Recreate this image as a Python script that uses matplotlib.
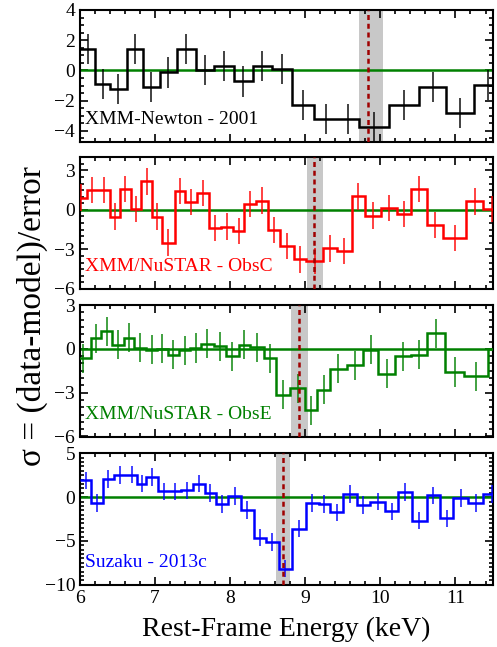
import numpy as np
import matplotlib
matplotlib.use("Agg")
import matplotlib.pyplot as plt
from matplotlib.ticker import MultipleLocator

plt.rcParams["font.family"] = ["Liberation Serif", "DejaVu Serif"]

# residuals in sigma units, step bins (edges in keV)
xmm01_edges = [6.0, 6.2, 6.4, 6.62, 6.84, 7.06, 7.29, 7.54, 7.79, 8.045, 8.30, 8.555, 8.82,
               9.12, 9.42, 9.72, 10.11, 10.51, 10.88, 11.24, 11.63]
xmm01_vals = [1.44, -0.89, -1.24, 1.44, -1.07, -0.13, 1.44, 0.04, 0.31, -0.73, 0.31, 0.09,
              -2.29, -3.2, -3.2, -3.73, -2.29, -1.11, -2.8, -0.96]

obsC_edges = [5.95, 6.087, 6.237, 6.397, 6.53, 6.68, 6.818, 6.96, 7.093, 7.26, 7.403, 7.558,
              7.713, 7.877, 8.037, 8.188, 8.347, 8.498, 8.666, 8.844, 9.012, 9.234, 9.42, 9.62,
              9.797, 10.005, 10.218, 10.405, 10.625, 10.838, 11.14, 11.37, 11.6]
obsC_vals = [0.94, 1.53, 1.53, -0.51, 1.58, 0.05, 2.16, -0.51, -2.49, 1.45, 0.59, 1.27,
             -1.35, -1.27, -1.58, 0.43, 0.71, -1.53, -2.75, -3.77, -3.89, -2.93, -3.13, 1.02,
             -0.43, 0.13, -0.31, 1.58, -1.15, -2.16, 0.64, 0.08]

obsE_edges = [5.95, 6.14, 6.282, 6.428, 6.583, 6.725, 6.884, 7.026, 7.168, 7.314, 7.469, 7.611,
              7.779, 7.943, 8.112, 8.267, 8.444, 8.613, 8.799, 8.998, 9.154, 9.331, 9.553,
              9.765, 9.974, 10.196, 10.404, 10.617, 10.861, 11.113, 11.437, 11.6]
obsE_vals = [-0.64, 0.73, 1.21, 0.27, 0.75, 0.07, -0.07, 0.0, -0.41, -0.11, 0.05, 0.34,
             0.18, -0.52, 0.27, 0.11, -0.64, -3.14, -2.69, -4.21, -2.8, -1.37, -1.14, -0.07,
             -1.71, -0.5, -0.39, 1.07, -1.59, -1.87, 0.0]

suz_edges = [6.0, 6.149, 6.304, 6.45, 6.614, 6.76, 6.884, 7.035, 7.195, 7.346, 7.505, 7.66,
             7.815, 7.97, 8.148, 8.312, 8.48, 8.644, 8.822, 9.008, 9.176, 9.331, 9.508, 9.686,
             9.863, 10.062, 10.24, 10.417, 10.617, 10.794, 10.972, 11.17, 11.37, 11.6]
suz_vals = [1.92, -0.65, 2.04, 2.5, 2.58, 1.54, 2.31, 0.65, 0.65, 0.77, 1.54, 0.46, -0.77,
            0.12, -1.46, -4.62, -5.12, -8.15, -3.58, -0.69, -0.77, -1.73, 0.38, -0.88, -0.5,
            -1.62, 0.58, -2.69, 0.19, -2.42, -0.12, -0.65, 0.38]

labels = ["XMM-Newton - 2001", "XMM/NuSTAR - ObsC", "XMM/NuSTAR - ObsE", "Suzaku - 2013c"]
colors = ["black", "red", "green", "blue"]
line_E = [9.84, 9.12, 8.91, 8.70]
band_lo = [9.71, 9.02, 8.81, 8.61]
band_hi = [10.03, 9.24, 9.03, 8.79]
ylims = [(-4.7, 4), (-6, 4), (-6, 3), (-10, 5)]
ymajor = [2, 3, 3, 5]
yminor = [0.5, 0.5, 0.5, 0.5]

edges_all = [xmm01_edges, obsC_edges, obsE_edges, suz_edges]
vals_all = [xmm01_vals, obsC_vals, obsE_vals, suz_vals]

fig = plt.figure(figsize=(4.97, 6.47), dpi=100)
left, right = 0.161, 0.992
tops = [10, 157.3, 305, 453.3]
height = 131.5
H = 647.0

for i in range(4):
    ax = fig.add_axes([left, 1 - (tops[i] + height) / H, right - left, height / H])
    ed = np.array(edges_all[i])
    v = np.array(vals_all[i])
    ax.axvspan(band_lo[i], band_hi[i], color="#c8c8c8", lw=0, zorder=0)
    ax.axhline(0, color="#008000", lw=1.8, zorder=2)
    ax.stairs(v, ed, color=colors[i], lw=1.8, baseline=None, zorder=3)
    centers = 0.5 * (ed[:-1] + ed[1:])
    ax.errorbar(centers, v, yerr=1.0, fmt="none", ecolor=colors[i], elinewidth=1.3,
                alpha=0.8, zorder=3)
    ax.axvline(line_E[i], color="#a00000", lw=1.8, ls=(0, (2, 1.5)), zorder=4)
    ax.set_xlim(6, 11.5)
    ax.set_ylim(*ylims[i])
    ax.xaxis.set_major_locator(MultipleLocator(1))
    ax.xaxis.set_minor_locator(MultipleLocator(0.2))
    ax.yaxis.set_major_locator(MultipleLocator(ymajor[i]))
    ax.yaxis.set_minor_locator(MultipleLocator(yminor[i]))
    ax.tick_params(which="both", direction="in", top=True, right=True, labelsize=14,
                   width=1.2)
    ax.tick_params(which="major", length=6)
    ax.tick_params(which="minor", length=3)
    for sp in ax.spines.values():
        sp.set_linewidth(1.5)
    if i < 3:
        ax.set_xticklabels([])
    else:
        ax.set_xlabel("Rest-Frame Energy (keV)", fontsize=20, labelpad=7)
    ax.text(0.012, 0.17, labels[i], transform=ax.transAxes, color=colors[i],
            fontsize=14, va="center", ha="left", zorder=5)

fig.text(0.066, 0.512, "σ = (data-model)/error", rotation=90, fontsize=24,
         va="center", ha="center")

fig.savefig("out.png", dpi=100)
